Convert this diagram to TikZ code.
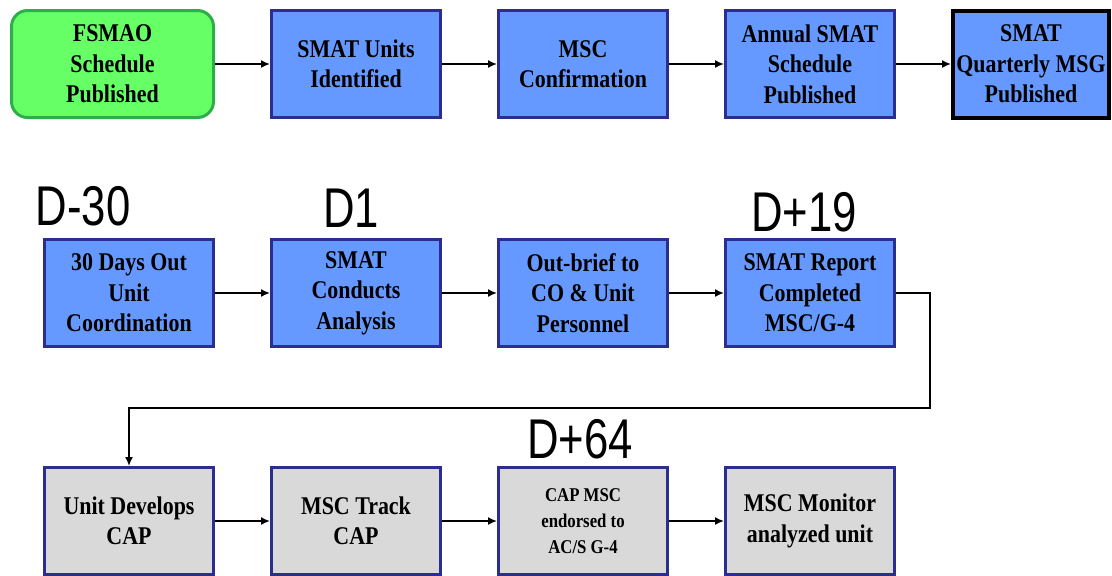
\documentclass[tikz,border=0pt]{standalone}
\usepackage{fontspec}
\newfontfamily\stepserif{Liberation Serif}[FakeStretch=0.86,
  UprightFont={* Bold}, BoldFont={* Bold}]
\newfontfamily\daysans{Liberation Sans}[FakeStretch=0.78]
\usetikzlibrary{arrows.meta}

\definecolor{boxblue}{HTML}{6699FF}
\definecolor{boxline}{HTML}{2B2E8F}
\definecolor{boxgreen}{HTML}{66FF66}
\definecolor{greenline}{HTML}{2EAE4A}
\definecolor{boxgray}{HTML}{D9D9D9}

\newcommand\stepfont{\stepserif\fontsize{25.5}{30.5}\selectfont}
\newcommand\smallstepfont{\stepserif\fontsize{19.5}{26}\selectfont}
\newcommand\dayfont{\daysans\fontsize{56}{60}\selectfont}

\tikzset{
  stepbox/.style={draw=boxline, line width=3pt, fill=boxblue,
    minimum width=169pt, minimum height=107pt, inner sep=2pt,
    align=center, font=\stepfont},
  greybox/.style={stepbox, fill=boxgray},
  startbox/.style={stepbox, draw=greenline, fill=boxgreen,
    rounded corners=16pt, minimum width=202pt},
  endbox/.style={stepbox, draw=black, line width=4pt, minimum width=156pt},
  daylabel/.style={anchor=base, inner sep=0pt, font=\dayfont},
  arr/.style={line width=1.6pt, -{Latex[length=9pt,width=8pt]}},
}

\begin{document}
\begin{tikzpicture}[x=1pt, y=-1pt]
  \useasboundingbox (0,0) rectangle (1112,576);

  % planning row
  \node[startbox] (fsmao) at (112.5,64) {FSMAO\\Schedule\\Published};
  \node[stepbox]  (units) at (356,64)   {SMAT Units\\Identified};
  \node[stepbox]  (conf)  at (583,64)   {MSC\\Confirmation};
  \node[stepbox]  (annual) at (810,64)  {Annual SMAT\\Schedule\\Published};
  \node[endbox]   (qmsg)  at (1031,64)  {SMAT\\Quarterly MSG\\Published};

  \draw[arr] (fsmao) -- (units);
  \draw[arr] (units) -- (conf);
  \draw[arr] (conf) -- (annual);
  \draw[arr] (annual) -- (qmsg);

  % analysis row
  \node[stepbox] (coord)   at (129,293) {30 Days Out\\Unit\\Coordination};
  \node[stepbox] (conduct) at (356,293) {SMAT\\Conducts\\Analysis};
  \node[stepbox] (brief)   at (583,293) {Out-brief to\\CO \& Unit\\Personnel};
  \node[stepbox] (report)  at (810,293) {SMAT Report\\Completed\\MSC/G-4};

  \node[daylabel] (dm30) at (83,225)  {D-30};
  \node[daylabel] (d1)   at (351,227) {D1};
  \node[daylabel] (dp19) at (804,231) {D+19};

  \draw[arr] (coord) -- (conduct);
  \draw[arr] (conduct) -- (brief);
  \draw[arr] (brief) -- (report);

  % corrective action row
  \node[greybox] (develop) at (129,521) {Unit Develops\\CAP};
  \node[greybox] (track)   at (356,521) {MSC Track\\CAP};
  \node[greybox, font=\smallstepfont] (endorse) at (583,521) {CAP MSC\\endorsed to\\AC/S G-4};
  \node[greybox] (monitor) at (810,521) {MSC Monitor\\analyzed unit};

  \node[daylabel] (dp64) at (580,458) {D+64};

  \draw[arr] (develop) -- (track);
  \draw[arr] (track) -- (endorse);
  \draw[arr] (endorse) -- (monitor);

  % hand-off from the report to the corrective action plan
  \coordinate (turn) at (930,408);
  \draw[arr] (report.east) -| (turn) -| (develop.north);
\end{tikzpicture}
\end{document}
